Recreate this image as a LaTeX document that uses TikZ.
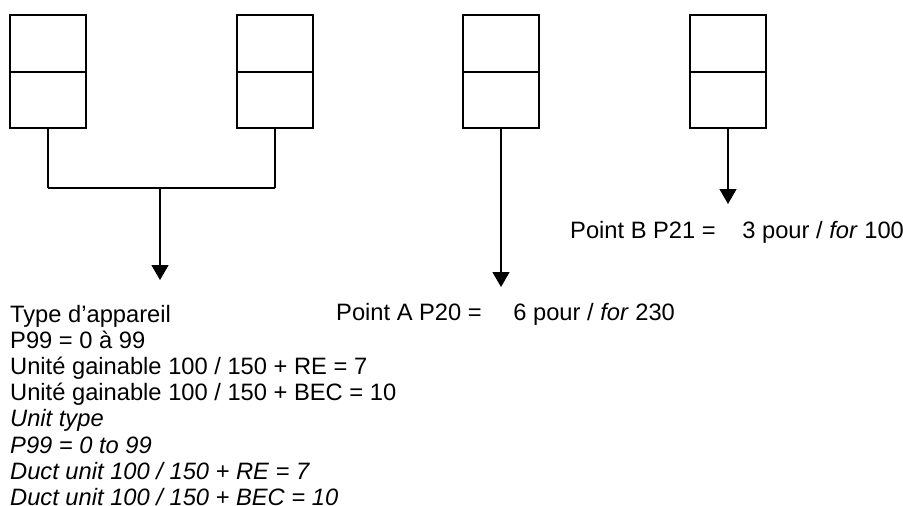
\documentclass[tikz,border=0pt]{standalone}
\usepackage{fontspec}
\setmainfont{Liberation Sans}
\usetikzlibrary{arrows.meta}
\begin{document}
\begin{tikzpicture}[x=1pt,y=-1pt,
  unitbox/.style={draw, line width=2pt, minimum width=76pt, minimum height=113pt,
    inner sep=0pt, anchor=north west,
    path picture={\draw[line width=2pt] (path picture bounding box.west) -- (path picture bounding box.east);}},
  link/.style={line width=1.4pt},
  bus/.style={line width=2pt},
  feed/.style={line width=1.4pt, -{Triangle[width=17pt,length=15pt]}},
  caption/.style={anchor=base west, inner sep=0pt, align=left,
    font=\fontsize{23.7}{26.2}\selectfont}]
  % page frame
  \useasboundingbox[fill=white] (0,0) rectangle (903,506);

  % the four two-compartment units
  \node[unitbox] (b1) at (9,14) {};
  \node[unitbox] (b2) at (236,14) {};
  \node[unitbox] (b3) at (462,14) {};
  \node[unitbox] (b4) at (689,14) {};

  % junction points and arrow ends
  \coordinate (jl) at (b1.south |- 0,188);
  \coordinate (jr) at (b2.south |- 0,188);
  \coordinate (jm) at (160,188);
  \coordinate (tA) at (160,280);
  \coordinate (tB) at (b3.south |- 0,287);
  \coordinate (tC) at (b4.south |- 0,204);

  % connectors
  \draw[link] (b1.south) -- (jl);
  \draw[link] (b2.south) -- (jr);
  \draw[bus] (jl) -- (jr);
  \draw[feed] (jm) -- (tA);
  \draw[feed] (b3.south) -- (tB);
  \draw[feed] (b4.south) -- (tC);

  % captions (a multi-line node sits on the baseline of its last line)
  \node[caption] (units) at (10,505.4) {Type d’appareil\\
    P99 = 0 à 99\\
    Unité gainable 100 / 150 + RE = 7\\
    Unité gainable 100 / 150 + BEC = 10\\
    \textit{Unit type}\\
    \textit{P99 = 0 to 99}\\
    \textit{Duct unit 100 / 150 + RE = 7}\\
    \textit{Duct unit 100 / 150 + BEC = 10}};
  \node[caption] (ptA) at (336,320) {Point A P20 =\hspace{25pt} 6 pour / \textit{for} 230};
  \node[caption] (ptB) at (570,238) {Point B P21 =\hspace{20pt} 3 pour / \textit{for} 100};
\end{tikzpicture}
\end{document}
